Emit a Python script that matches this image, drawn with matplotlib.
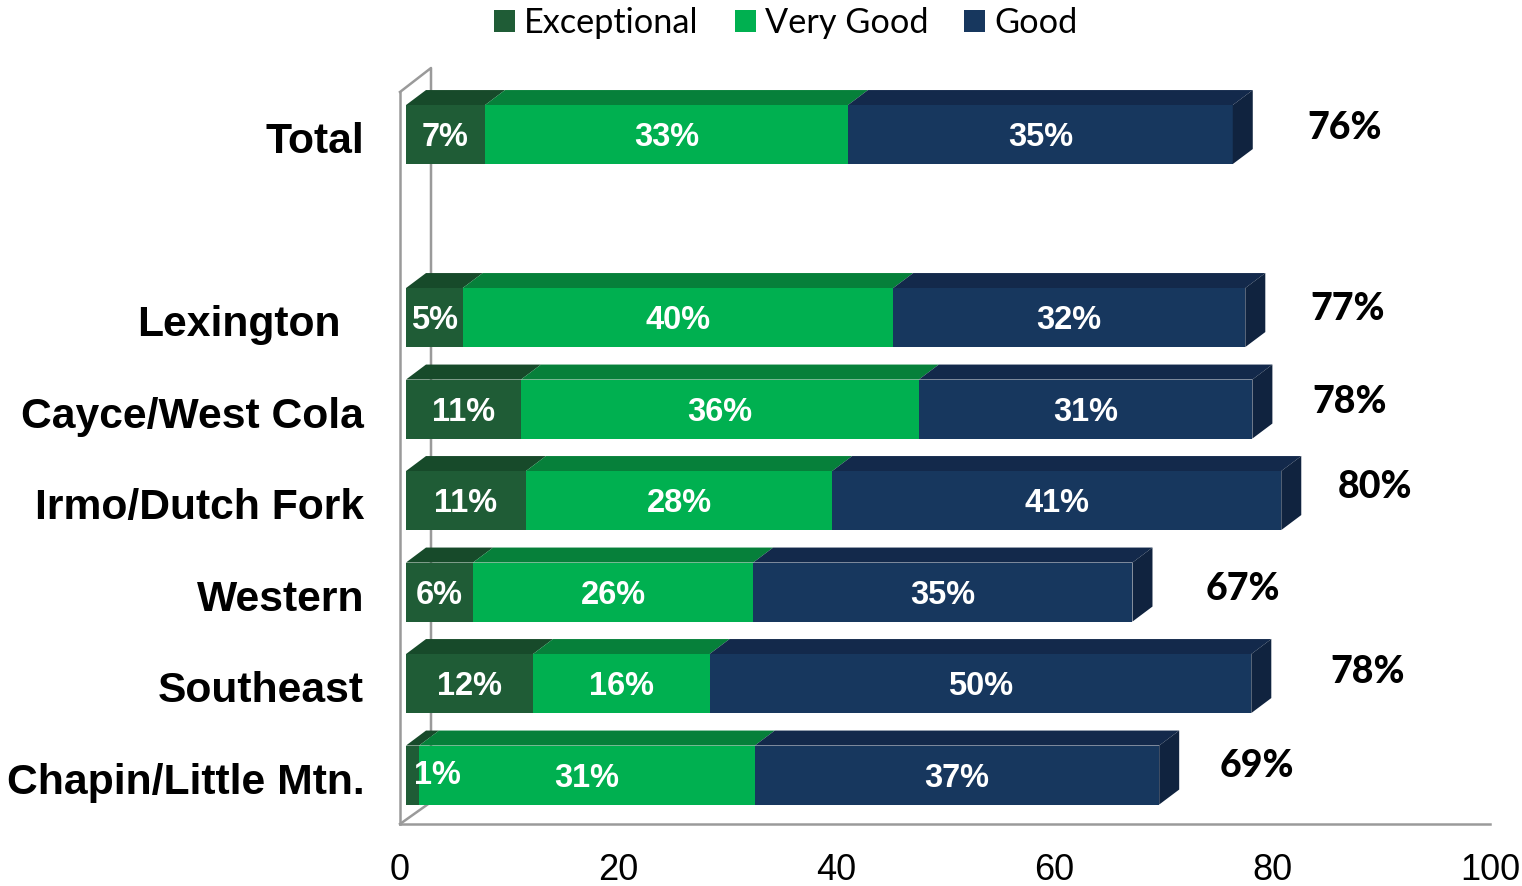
import matplotlib
matplotlib.use("Agg")
import matplotlib.pyplot as plt
from matplotlib.patches import Polygon, Patch
from matplotlib.transforms import ScaledTranslation

regions = ["Total", "", "Lexington", "Cayce/West Cola", "Irmo/Dutch Fork", "Western", "Southeast", "Chapin/Little Mtn."]
rows = [0, 2, 3, 4, 5, 6, 7]

# bar lengths (not the rounded labels)
exceptional = [7.25, 5.2, 10.55, 11.0, 6.15, 11.65, 1.2]
very_good = [33.3, 39.5, 36.5, 28.1, 25.7, 16.2, 30.8]
good = [35.3, 32.3, 30.6, 41.2, 34.8, 49.7, 37.1]

exceptional_labels = ["7%", "5%", "11%", "11%", "6%", "12%", "1%"]
very_good_labels = ["33%", "40%", "36%", "28%", "26%", "16%", "31%"]
good_labels = ["35%", "32%", "31%", "41%", "35%", "50%", "37%"]
total_labels = ["76%", "77%", "78%", "80%", "67%", "78%", "69%"]

# where the totals sit, in picture pixels
total_x = [1345, 1348, 1350, 1375, 1243, 1368, 1257]
total_y = [128, 309, 402, 487, 589, 672, 766]

W, H = 1522, 886
LEFT, RIGHT, TOP, BOTTOM = 400, 1490, 92, 824
UX = (RIGHT - LEFT) / 100
UY = (BOTTOM - TOP) / 8

# 3D look, in data units
X0 = 6 / UX
Y_SHIFT = -3.2 / UY
DX = 20 / UX
DY = 15 / UY
BAR_H = 59 / UY

fig = plt.figure(figsize=(W / 100, H / 100), dpi=100)
ax = fig.add_axes([LEFT / W, 1 - BOTTOM / H, (RIGHT - LEFT) / W, (BOTTOM - TOP) / H])
ax.set_xlim(0, 100)
ax.set_ylim(7.5, -0.5)

wall = "#9a9a9a"
for s in ["top", "right"]:
    ax.spines[s].set_visible(False)
for s in ["left", "bottom"]:
    ax.spines[s].set_color(wall)
    ax.spines[s].set_linewidth(1.8)

# back wall of the box
wall_dx = 31 / UX
ax.plot([0, wall_dx, wall_dx, 0], [-0.5, -0.5 - 24 / UY, 7.5 - 22 / UY, 7.5],
        color=wall, lw=1.8, clip_on=False, zorder=1)


def bar3d(y, start, length, front, top, side=None):
    y0 = y + Y_SHIFT - BAR_H / 2
    y1 = y + Y_SHIFT + BAR_H / 2
    x0 = X0 + start
    x1 = x0 + length
    ax.add_patch(Polygon([(x0, y0), (x0 + DX, y0 - DY), (x1 + DX, y0 - DY), (x1, y0)],
                         fc=top, ec="none", zorder=3, clip_on=False))
    ax.add_patch(Polygon([(x0, y0), (x1, y0), (x1, y1), (x0, y1)],
                         fc=front, ec="none", zorder=4, clip_on=False))
    if side:
        ax.add_patch(Polygon([(x1, y0), (x1 + DX, y0 - DY), (x1 + DX, y1 - DY), (x1, y1)],
                             fc=side, ec="none", zorder=4, clip_on=False))


dark, green, navy = "#1F5C36", "#00B050", "#17375E"
label_font = "Liberation Sans"
for i, y in enumerate(rows):
    a, b, c = exceptional[i], very_good[i], good[i]
    bar3d(y, 0, a, dark, "#174A2A")
    bar3d(y, a, b, green, "#06803A")
    bar3d(y, a + b, c, navy, "#13294B", "#10233F")

    ly = y + Y_SHIFT + 3.2 / UY
    xa = X0 + a / 2
    if i == 6:
        xa = (437 - LEFT) / UX
    ax.text(xa, ly - (3 / UY if i == 6 else 0), exceptional_labels[i], color="white", ha="center", va="center",
            fontsize=23.5, fontweight="bold", family=label_font, zorder=5)
    ax.text(X0 + a + b / 2, ly, very_good_labels[i], color="white", ha="center", va="center",
            fontsize=23.5, fontweight="bold", family=label_font, zorder=5)
    ax.text(X0 + a + b + c / 2, ly, good_labels[i], color="white", ha="center", va="center",
            fontsize=23.5, fontweight="bold", family=label_font, zorder=5)

    fig.text(total_x[i] / W, 1 - total_y[i] / H, total_labels[i], ha="center", va="center",
             fontsize=27, fontweight="black", family="Lato")

ax.set_xticks(range(0, 101, 20))
ax.tick_params(axis="x", length=0, pad=20.7, labelsize=26)
ax.set_yticks(range(8))
ax.set_yticklabels(regions, fontsize=30.7, fontweight="bold", family=label_font)
ax.tick_params(axis="y", length=0, pad=25.8)
for lab in ax.get_xticklabels():
    lab.set_family(label_font)

# Lexington sits a little left of the others in the original
lex = ax.get_yticklabels()[2]
lex.set_transform(lex.get_transform() + ScaledTranslation(-24 / 100, 0, fig.dpi_scale_trans))

handles = [Patch(fc=dark, label="Exceptional"), Patch(fc=green, label="Very Good"), Patch(fc=navy, label="Good")]
fig.legend(handles=handles, ncol=3, loc="center", bbox_to_anchor=(786 / W, 1 - 23 / H), frameon=False,
           prop={"family": "Lato", "size": 24.7}, handlelength=0.61, handleheight=0.61,
           handletextpad=0.27, columnspacing=1.05, borderpad=0)

fig.savefig("out.png", dpi=100)
